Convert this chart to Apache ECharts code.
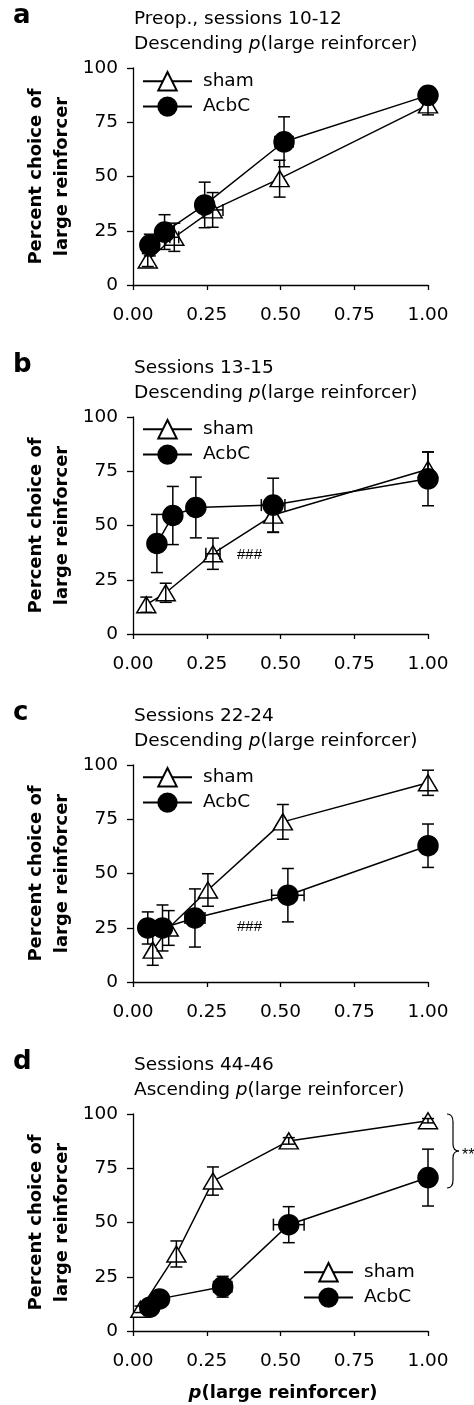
<!DOCTYPE html>
<html>
<head>
<meta charset="utf-8">
<script src="https://cdn.jsdelivr.net/npm/echarts@6/dist/echarts.min.js"></script>
<style>
  html, body { margin: 0; padding: 0; background: #fff; }
  #chart { width: 474px; height: 1405px; }
</style>
</head>
<body>
<div id="chart"></div>
<script>
// ---------- data ----------
const panelLetters = ['a', 'b', 'c', 'd'];
const titleLine1 = ['Preop., sessions 10-12', 'Sessions 13-15', 'Sessions 22-24', 'Sessions 44-46'];
const titleLine2 = ['Descending', 'Descending', 'Descending', 'Ascending'];
const seriesNames = ['sham', 'AcbC'];
const xTicks = [0, 0.25, 0.5, 0.75, 1];
const yTicks = [0, 25, 50, 75, 100];

// Panel a
const a_sham_p    = [0.050, 0.140, 0.270, 0.497, 1.000];
const a_sham_pct  = [11.5, 22.0, 34.6, 49.0, 83.0];
const a_sham_err  = [3.0, 6.5, 8.0, 8.5, 4.6];
const a_sham_perr = [0, 0.015, 0.035, 0, 0];
const a_acbc_p    = [0.057, 0.107, 0.243, 0.512, 1.000];
const a_acbc_pct  = [18.4, 24.4, 36.9, 66.0, 87.4];
const a_acbc_err  = [5.0, 8.0, 10.5, 11.5, 4.0];
const a_acbc_perr = [0, 0.015, 0, 0.031, 0];

// Panel b
const b_sham_p    = [0.045, 0.111, 0.271, 0.475, 1.000];
const b_sham_pct  = [13.5, 19.0, 37.0, 54.8, 75.9];
const b_sham_err  = [3.5, 4.4, 7.2, 8.0, 8.0];
const b_sham_perr = [0, 0, 0.024, 0, 0];
const b_acbc_p    = [0.081, 0.135, 0.213, 0.475, 1.000];
const b_acbc_pct  = [41.7, 54.6, 58.3, 59.4, 71.5];
const b_acbc_err  = [13.4, 13.4, 14.0, 12.4, 12.4];
const b_acbc_perr = [0, 0.01, 0, 0.04, 0];

// Panel c
const c_sham_p    = [0.067, 0.121, 0.254, 0.508, 1.000];
const c_sham_pct  = [14.7, 24.9, 42.4, 73.8, 91.8];
const c_sham_err  = [7.0, 8.0, 7.5, 8.0, 5.8];
const c_sham_perr = [0, 0, 0, 0, 0];
const c_acbc_p    = [0.050, 0.100, 0.210, 0.525, 1.000];
const c_acbc_pct  = [24.9, 24.9, 29.5, 40.0, 62.8];
const c_acbc_err  = [7.4, 10.6, 13.4, 12.3, 10.0];
const c_acbc_perr = [0, 0, 0.034, 0.055, 0];

// Panel d
const d_sham_p    = [0.025, 0.147, 0.271, 0.528, 1.000];
const d_sham_pct  = [10.0, 35.5, 69.1, 87.6, 96.9];
const d_sham_err  = [1.5, 6.0, 6.5, 1.5, 1.0];
const d_sham_perr = [0, 0, 0, 0, 0];
const d_acbc_p    = [0.057, 0.090, 0.304, 0.528, 1.000];
const d_acbc_pct  = [11.0, 14.8, 20.4, 49.0, 70.7];
const d_acbc_err  = [3.5, 2.0, 4.8, 8.3, 13.1];
const d_acbc_perr = [0, 0.025, 0.031, 0.052, 0];

const panelData = [
  { sham: [a_sham_p, a_sham_pct, a_sham_err, a_sham_perr], acbc: [a_acbc_p, a_acbc_pct, a_acbc_err, a_acbc_perr] },
  { sham: [b_sham_p, b_sham_pct, b_sham_err, b_sham_perr], acbc: [b_acbc_p, b_acbc_pct, b_acbc_err, b_acbc_perr] },
  { sham: [c_sham_p, c_sham_pct, c_sham_err, c_sham_perr], acbc: [c_acbc_p, c_acbc_pct, c_acbc_err, c_acbc_perr] },
  { sham: [d_sham_p, d_sham_pct, d_sham_err, d_sham_perr], acbc: [d_acbc_p, d_acbc_pct, d_acbc_err, d_acbc_perr] }
];

// ---------- layout / style ----------
const FONT = 'DejaVu Sans';
const FS = 18.5;
const gridLeft = 133, gridWidth = 295, gridHeight = 217;
const gridTops = [68, 417, 765, 1114];
const legendPos = [
  { left: 142, top: 71 }, { left: 142, top: 419 }, { left: 142, top: 767 }, { left: 303, top: 1262 }
];

const chart = echarts.init(document.getElementById('chart'), null, { renderer: 'canvas' });

const grids = [], xAxes = [], yAxes = [], series = [], legends = [], graphics = [];

function errRender(params, api) {
  const x = api.value(0), y = api.value(1), ye = api.value(2), xe = api.value(3);
  const c = api.coord([x, y]);
  const st = { stroke: '#000', lineWidth: 1.5, fill: null };
  const cap = 6;
  const ch = [];
  if (ye > 0) {
    const t = api.coord([x, y + ye]), b = api.coord([x, y - ye]);
    ch.push({ type: 'line', shape: { x1: c[0], y1: t[1], x2: c[0], y2: b[1] }, style: st });
    ch.push({ type: 'line', shape: { x1: c[0] - cap, y1: t[1], x2: c[0] + cap, y2: t[1] }, style: st });
    ch.push({ type: 'line', shape: { x1: c[0] - cap, y1: b[1], x2: c[0] + cap, y2: b[1] }, style: st });
  }
  if (xe > 0) {
    const l = api.coord([x - xe, y]), r = api.coord([x + xe, y]);
    ch.push({ type: 'line', shape: { x1: l[0], y1: c[1], x2: r[0], y2: c[1] }, style: st });
    ch.push({ type: 'line', shape: { x1: l[0], y1: c[1] - cap, x2: l[0], y2: c[1] + cap }, style: st });
    ch.push({ type: 'line', shape: { x1: r[0], y1: c[1] - cap, x2: r[0], y2: c[1] + cap }, style: st });
  }
  return { type: 'group', children: ch };
}

panelData.forEach((pd, i) => {
  const top = gridTops[i];
  grids.push({ left: gridLeft, top: top, width: gridWidth, height: gridHeight, containLabel: false });
  xAxes.push({
    type: 'value', gridIndex: i, min: xTicks[0], max: xTicks[xTicks.length - 1], interval: 0.25,
    axisLine: { show: true, onZero: false, lineStyle: { color: '#000', width: 1.3 } },
    axisTick: { show: true, length: 5, lineStyle: { color: '#000', width: 1.3 } },
    splitLine: { show: false },
    axisLabel: { color: '#000', fontSize: FS, fontFamily: FONT, margin: 21, formatter: v => v.toFixed(2) }
  });
  yAxes.push({
    type: 'value', gridIndex: i, min: yTicks[0], max: yTicks[yTicks.length - 1], interval: 25,
    axisLine: { show: true, onZero: false, lineStyle: { color: '#000', width: 1.3 } },
    axisTick: { show: true, length: 6, lineStyle: { color: '#000', width: 1.3 } },
    splitLine: { show: false },
    axisLabel: { color: '#000', fontSize: FS, fontFamily: FONT, margin: 15 }
  });

  const groups = [
    { key: 'sham', name: seriesNames[0], symbol: 'triangle', size: [19, 16], fill: '#fff' },
    { key: 'acbc', name: seriesNames[1], symbol: 'circle', size: 20, fill: '#000' }
  ];
  groups.forEach(g => {
    const [px, py] = pd[g.key];
    series.push({
      type: 'line', name: g.name, xAxisIndex: i, yAxisIndex: i,
      data: px.map((x, k) => [x, py[k]]),
      symbol: g.symbol, symbolSize: g.size, showAllSymbol: true,
      lineStyle: { color: '#000', width: 1.5 },
      itemStyle: { color: g.fill, borderColor: '#000', borderWidth: 1.5 },
      emphasis: { disabled: true }, animation: false, z: 3
    });
  });
  groups.forEach(g => {
    const [px, py, pe, pxe] = pd[g.key];
    series.push({
      type: 'custom', name: g.name + ' err', xAxisIndex: i, yAxisIndex: i,
      data: px.map((x, k) => [x, py[k], pe[k], pxe[k]]),
      encode: { x: 0, y: 1 }, renderItem: errRender, z: 5, silent: true, animation: false
    });
  });

  legends.push({
    orient: 'vertical', left: legendPos[i].left, top: legendPos[i].top, padding: 0,
    itemWidth: 49, itemHeight: 23, itemGap: 5, data: seriesNames, selectedMode: false,
    textStyle: { color: '#000', fontSize: FS, fontFamily: FONT, padding: [0, 0, 0, 6] }
  });

  // panel letter
  graphics.push({ type: 'text', x: 13, y: top - 52,
    style: { text: panelLetters[i], fontSize: 26, fontWeight: 'bold', fontFamily: FONT, fill: '#000', verticalAlign: 'middle', align: 'left' } });
  // titles
  graphics.push({ type: 'text', x: 134, y: top - 49,
    style: { text: titleLine1[i], fontSize: FS, fontFamily: FONT, fill: '#000', verticalAlign: 'middle', align: 'left' } });
  graphics.push({ type: 'text', x: 134, y: top - 24,
    style: { text: titleLine2[i] + ' {i|p}(large reinforcer)', fontSize: FS, fontFamily: FONT, fill: '#000', verticalAlign: 'middle', align: 'left',
      rich: { i: { fontStyle: 'italic', fontSize: FS, fontFamily: FONT, fill: '#000' } } } });
  // y axis name
  graphics.push({ type: 'text', x: 49, y: top + gridHeight / 2, rotation: Math.PI / 2,
    style: { text: 'Percent choice of\nlarge reinforcer', fontSize: 18, fontWeight: 'bold', fontFamily: FONT, fill: '#000',
      align: 'center', verticalAlign: 'middle', lineHeight: 26 } });
});

// x axis name (bottom panel)
graphics.push({ type: 'text', x: 283, y: 1393,
  style: { text: '{i|p}(large reinforcer)', fontSize: 18, fontWeight: 'bold', fontFamily: FONT, fill: '#000', align: 'center', verticalAlign: 'middle',
    rich: { i: { fontStyle: 'italic', fontWeight: 'bold', fontSize: 18, fontFamily: FONT, fill: '#000' } } } });
// significance marks
graphics.push({ type: 'text', x: 237, y: 555, style: { text: '###', fontSize: 15, fontFamily: 'Liberation Sans', fill: '#000', verticalAlign: 'middle' } });
graphics.push({ type: 'text', x: 237, y: 927, style: { text: '###', fontSize: 15, fontFamily: 'Liberation Sans', fill: '#000', verticalAlign: 'middle' } });
// brace for panel d
const braceStyle = { stroke: '#000', lineWidth: 1.2, fill: null };
graphics.push({ type: 'group', children: [
  { type: 'bezierCurve', shape: { x1: 447, y1: 1114, cpx1: 453, cpy1: 1114, x2: 453, y2: 1122 }, style: braceStyle },
  { type: 'line', shape: { x1: 453, y1: 1122, x2: 453, y2: 1144 }, style: braceStyle },
  { type: 'bezierCurve', shape: { x1: 453, y1: 1144, cpx1: 453, cpy1: 1151, x2: 459, y2: 1151 }, style: braceStyle },
  { type: 'bezierCurve', shape: { x1: 459, y1: 1151, cpx1: 453, cpy1: 1151, x2: 453, y2: 1158 }, style: braceStyle },
  { type: 'line', shape: { x1: 453, y1: 1158, x2: 453, y2: 1180 }, style: braceStyle },
  { type: 'bezierCurve', shape: { x1: 453, y1: 1180, cpx1: 453, cpy1: 1188, x2: 447, y2: 1188 }, style: braceStyle }
] });
graphics.push({ type: 'text', x: 462, y: 1156, style: { text: '**', fontSize: 16, fontFamily: 'Liberation Sans', fill: '#000', verticalAlign: 'middle' } });

chart.setOption({
  backgroundColor: '#fff',
  animation: false,
  grid: grids, xAxis: xAxes, yAxis: yAxes, series: series, legend: legends, graphic: graphics
});
</script>
</body>
</html>
